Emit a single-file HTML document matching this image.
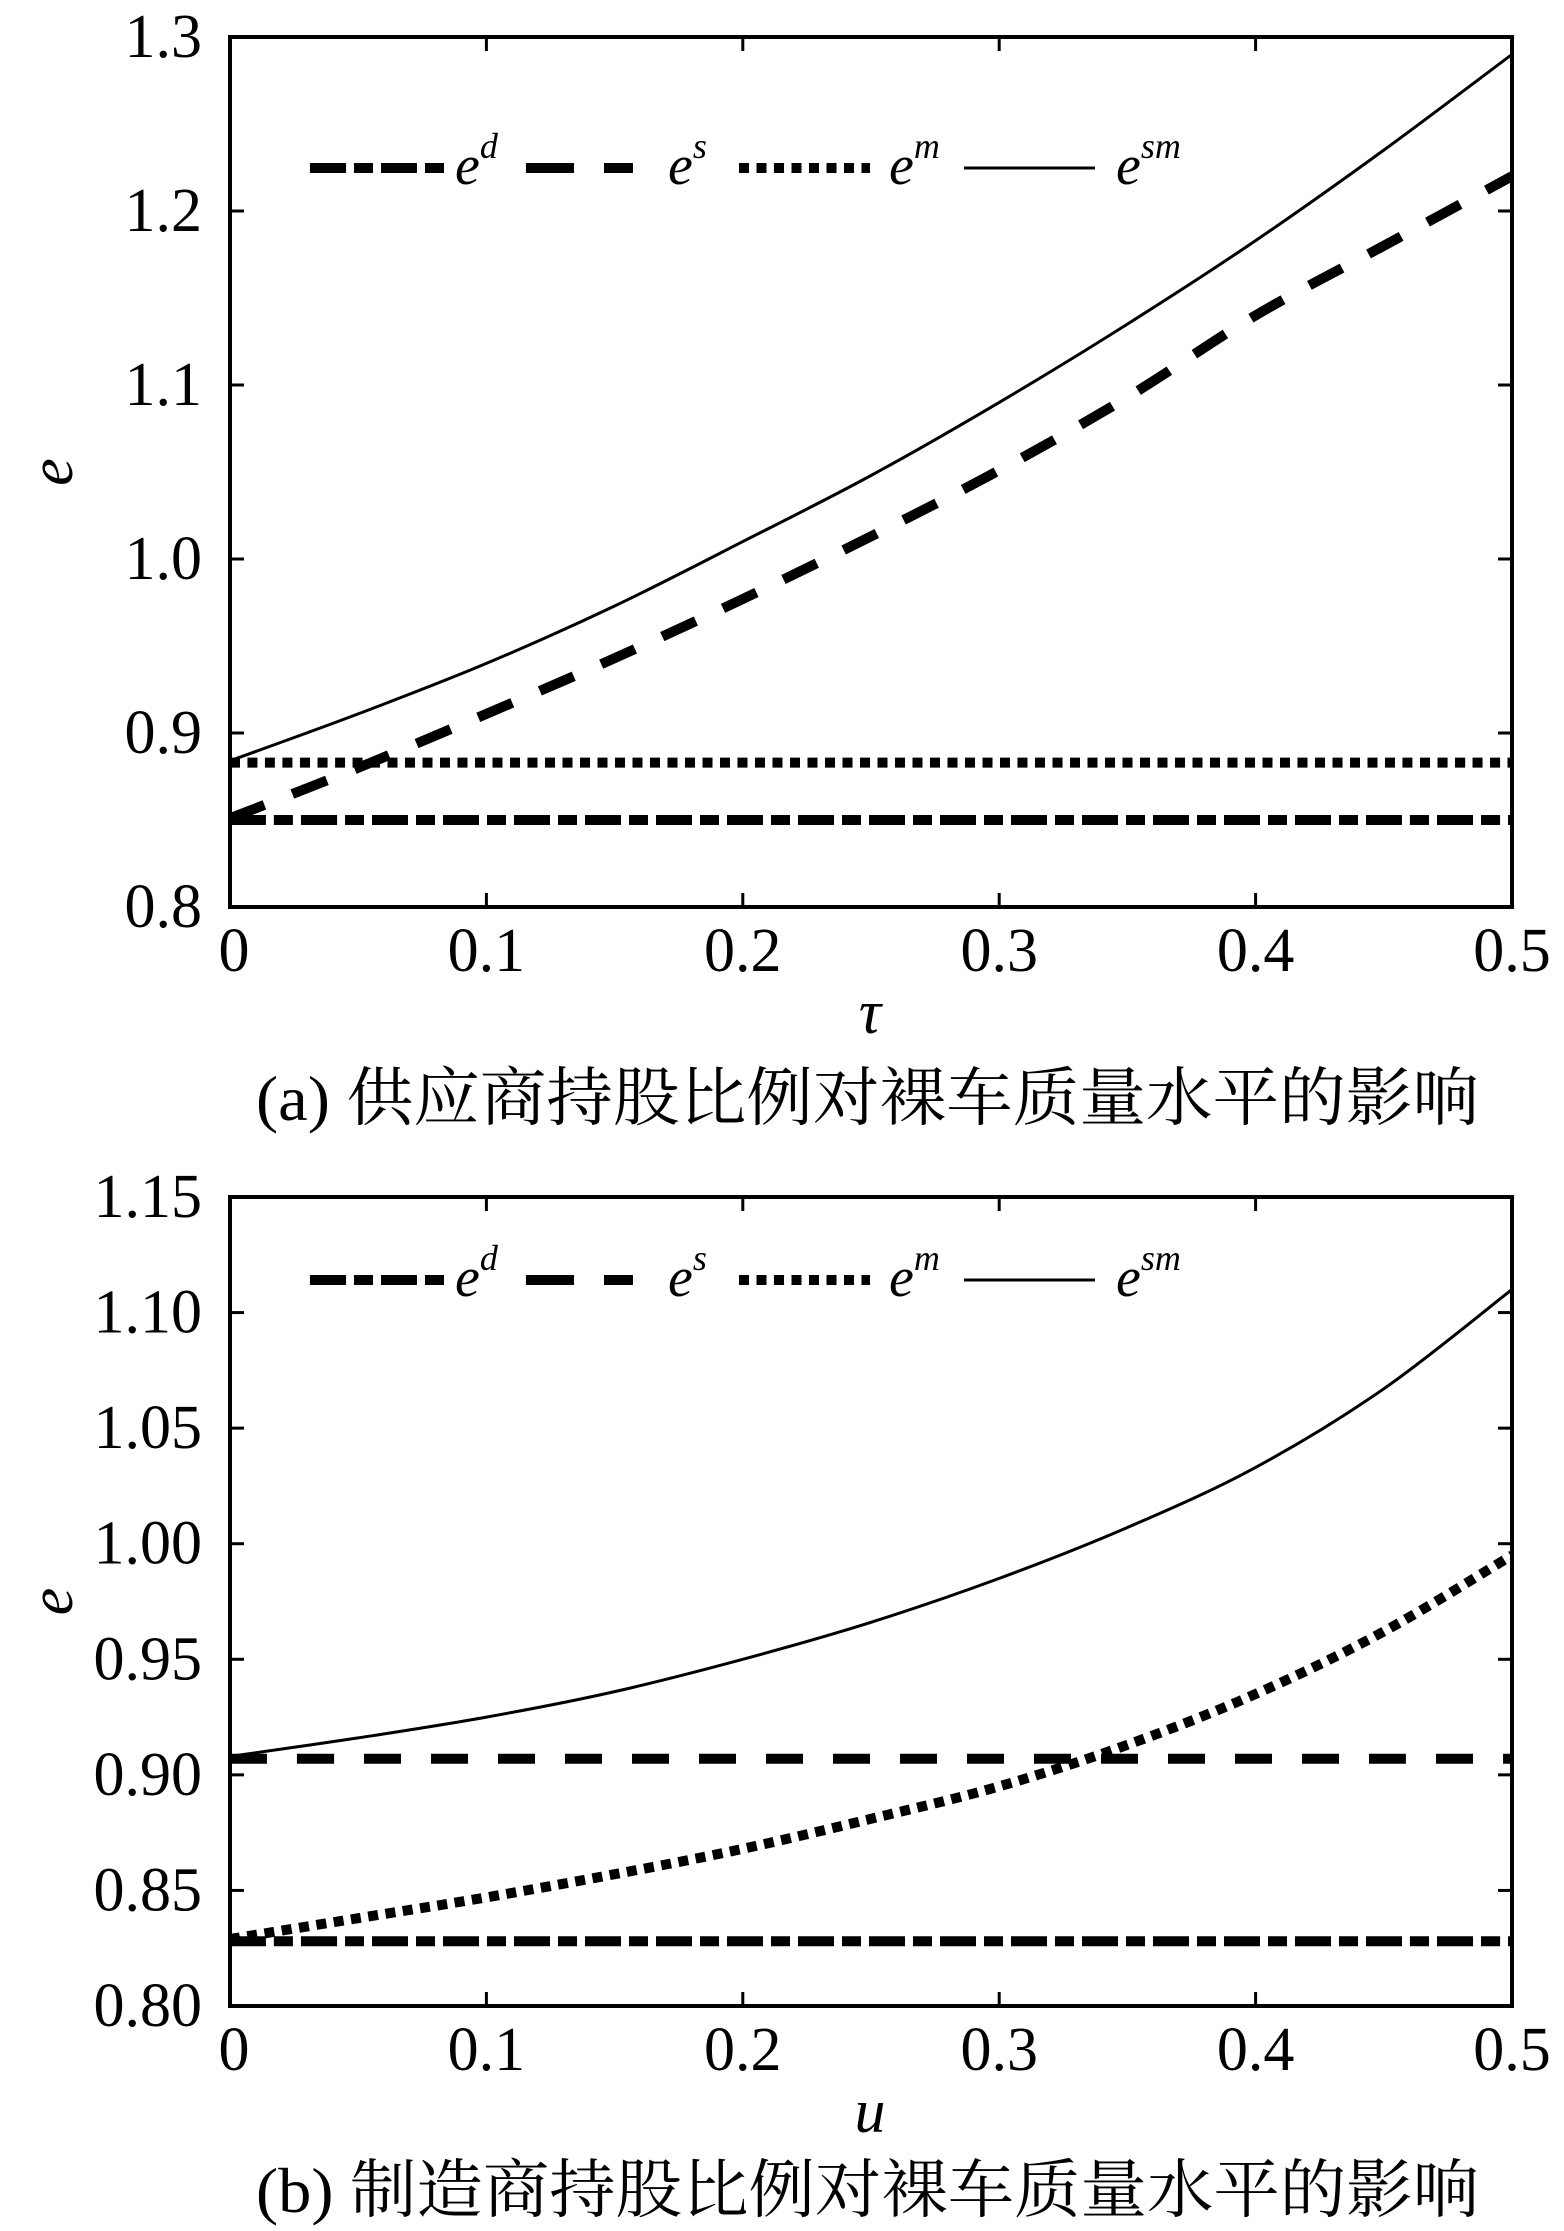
<!DOCTYPE html>
<html><head><meta charset="utf-8"><style>
html,body{margin:0;padding:0;background:#fff}
svg{display:block}
text{font-family:"Liberation Serif","Noto Serif CJK SC",serif;fill:#000}
</style></head><body>
<svg id="fig" width="1564" height="2231" viewBox="0 0 1564 2231" xmlns="http://www.w3.org/2000/svg">
<text x="256" y="1120" font-size="64" textLength="1223" lengthAdjust="spacingAndGlyphs">(a) 供应商持股比例对裸车质量水平的影响</text>
<text x="256" y="2212" font-size="64" textLength="1223" lengthAdjust="spacingAndGlyphs">(b) 制造商持股比例对裸车质量水平的影响</text>
</svg>
<script>
// Panel (a)
const xVals = [0,0.05,0.1,0.15,0.2,0.25,0.3,0.35,0.4,0.45,0.5];
const aTicksY = [0.8,0.9,1.0,1.1,1.2,1.3];
const aTickLabelsY = ["0.8","0.9","1.0","1.1","1.2","1.3"];
const xTicks = [0,0.1,0.2,0.3,0.4,0.5];
const xTickLabels = ["0","0.1","0.2","0.3","0.4","0.5"];
const aEd  = [0.85,0.85,0.85,0.85,0.85,0.85,0.85,0.85,0.85,0.85,0.85];
const aEs  = [0.851,0.880,0.911,0.943,0.977,1.013,1.051,1.093,1.140,1.180,1.220];
const aEm  = [0.883,0.883,0.883,0.883,0.883,0.883,0.883,0.883,0.883,0.883,0.883];
const aEsm = [0.884,0.911,0.940,0.973,1.010,1.048,1.090,1.135,1.183,1.235,1.290];
// Panel (b)
const bTicksY = [0.80,0.85,0.90,0.95,1.00,1.05,1.10,1.15];
const bTickLabelsY = ["0.80","0.85","0.90","0.95","1.00","1.05","1.10","1.15"];
const bEd  = [0.828,0.828,0.828,0.828,0.828,0.828,0.828,0.828,0.828,0.828,0.828];
const bEs  = [0.907,0.907,0.907,0.907,0.907,0.907,0.907,0.907,0.907,0.907,0.907];
const bEm  = [0.829,0.838,0.847,0.857,0.868,0.881,0.895,0.913,0.935,0.962,0.995];
const bEsm = [0.908,0.916,0.925,0.936,0.950,0.966,0.985,1.007,1.033,1.067,1.110];

const NS="http://www.w3.org/2000/svg";
const svg=document.getElementById('fig');
function mk(tag,attrs,parent){const e=document.createElementNS(NS,tag);for(const k in attrs)e.setAttribute(k,attrs[k]);(parent||svg).appendChild(e);return e;}

const styles={
  ed:{w:10,dash:"36 8 19 8"},
  es:{w:10,dash:"37 30"},
  em:{w:10,dash:"10 7.5"},
  esm:{w:3,dash:""}
};

function smoothPath(P){
  let d='M'+P[0][0].toFixed(1)+','+P[0][1].toFixed(1);
  for(let i=0;i<P.length-1;i++){
    const p0=P[i-1]||P[i],p1=P[i],p2=P[i+1],p3=P[i+2]||P[i+1];
    const c1x=p1[0]+(p2[0]-p0[0])/6,c1y=p1[1]+(p2[1]-p0[1])/6;
    const c2x=p2[0]-(p3[0]-p1[0])/6,c2y=p2[1]-(p3[1]-p1[1])/6;
    d+=' C'+c1x.toFixed(1)+','+c1y.toFixed(1)+' '+c2x.toFixed(1)+','+c2y.toFixed(1)+' '+p2[0].toFixed(1)+','+p2[1].toFixed(1);
  }
  return d;
}

function panel(id,top,bottom,ymin,ymax,yt,ytl,series,xlabel,legendY){
  const L=230,R=1512;
  const g=mk('g',{});
  
  
  const sx=v=>L+(v-0)/(0.5)*(R-L);
  const sy=v=>bottom-(v-ymin)/(ymax-ymin)*(bottom-top);
  const clip=mk('clipPath',{id:'clip'+id},g);
  mk('rect',{x:L,y:top,width:R-L,height:bottom-top},clip);
  yt.forEach((v,i)=>{
    const y=sy(v);
    if(i>0&&i<yt.length-1){
      const t1=mk('line',{x1:L,x2:L+14,y1:y,y2:y,stroke:'#000','stroke-width':3},g);
      
      
      const t2=mk('line',{x1:R-14,x2:R,y1:y,y2:y,stroke:'#000','stroke-width':3},g);
      
      
    }
    const tl=mk('text',{x:202,y:y+20,'font-size':62,'text-anchor':'end'},g);
    tl.textContent=ytl[i];
    
    
  });
  xTicks.forEach((v,i)=>{
    const x=sx(v);
    if(i>0&&i<xTicks.length-1){
      const t1=mk('line',{x1:x,x2:x,y1:bottom,y2:bottom-14,stroke:'#000','stroke-width':3},g);
      
      
      const t2=mk('line',{x1:x,x2:x,y1:top,y2:top+14,stroke:'#000','stroke-width':3},g);
      
      
    }
    const tl=mk('text',{x:x+(i===0?4:0),y:bottom+64,'font-size':62,'text-anchor':'middle'},g);
    tl.textContent=xTickLabels[i];
    
    
  });
  const sg=mk('g',{'clip-path':'url(#clip'+id+')'},g);
  series.forEach(s=>{
    const P=xVals.map((x,i)=>[sx(x),sy(s.data[i])]);
    const st=styles[s.key];
    const p=mk('path',{d:smoothPath(P),fill:'none',stroke:'#000','stroke-width':st.w,'stroke-dasharray':st.dash},sg);
    
    
  });
  const fr=mk('rect',{x:L,y:top,width:R-L,height:bottom-top,fill:'none',stroke:'#000','stroke-width':4},g);
  
  
  const xl=mk('text',{x:870,y:bottom+126,'font-size':62,'font-style':'italic','text-anchor':'middle'},g);
  xl.textContent=xlabel;
  
  
  const cy=(top+bottom)/2;
  const yl=mk('text',{x:0,y:0,'font-size':62,'font-style':'italic','text-anchor':'middle',transform:'translate(72,'+cy+') rotate(-90)'},g);
  yl.textContent='e';
  
  
  const leg=[{k:'ed',x1:310,x2:448,lx:455,sup:'d'},{k:'es',x1:526,x2:633,lx:668,sup:'s'},{k:'em',x1:739,x2:870,lx:889,sup:'m'},{k:'esm',x1:964,x2:1095,lx:1116,sup:'sm'}];
  leg.forEach(o=>{
    const st=styles[o.k];
    const ln=mk('line',{x1:o.x1,x2:o.x2,y1:legendY,y2:legendY,stroke:'#000','stroke-width':st.w,'stroke-dasharray':st.dash==="37 30"?"48 30":st.dash},g);
    
    
    const t=mk('text',{x:o.lx,y:legendY+16,'font-size':56,'font-style':'italic'},g);
    
    
    t.textContent='e';
    const su=mk('tspan',{'font-size':36,dy:-26},t);
    su.textContent=o.sup;
  });
}
panel('a',37,907,0.8,1.3,aTicksY,aTickLabelsY,[{key:'ed',data:aEd},{key:'em',data:aEm},{key:'es',data:aEs},{key:'esm',data:aEsm}],'τ',168);
panel('b',1197,2006,0.8,1.15,bTicksY,bTickLabelsY,[{key:'ed',data:bEd},{key:'es',data:bEs},{key:'em',data:bEm},{key:'esm',data:bEsm}],'u',1280);
</script>
</body></html>
